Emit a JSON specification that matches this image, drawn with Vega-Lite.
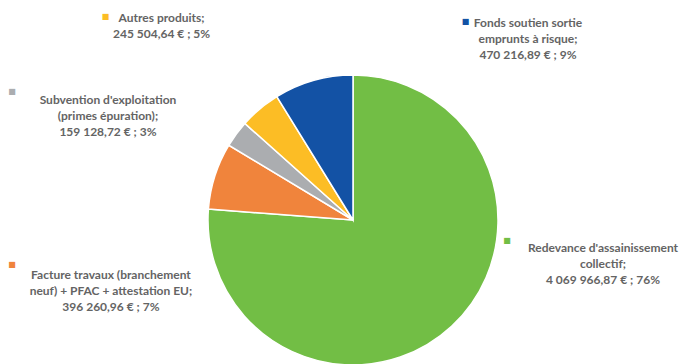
{
  "$schema": "https://vega.github.io/schema/vega-lite/v6.json",
  "width": 656,
  "height": 288,
  "padding": {"left": 25, "top": 76, "right": 0, "bottom": 0},
  "autosize": {"type": "none"},
  "background": "white",
  "view": {"stroke": null},
  "data": {"values": [
    {"n": 1, "cat": "Redevance d'assainissement collectif", "value": 4069966.87, "label": "Redevance d'assainissement\ncollectif;\n4 069 966,87 € ; 76%"},
    {"n": 2, "cat": "Facture travaux (branchement neuf) + PFAC + attestation EU", "value": 396260.96, "label": "Facture travaux (branchement\nneuf) + PFAC + attestation EU;\n396 260,96 € ; 7%"},
    {"n": 3, "cat": "Subvention d'exploitation (primes épuration)", "value": 159128.72, "label": "Subvention d'exploitation\n(primes épuration);\n159 128,72 € ; 3%"},
    {"n": 4, "cat": "Autres produits", "value": 245504.64, "label": "Autres produits;\n245 504,64 € ; 5%"},
    {"n": 5, "cat": "Fonds soutien sortie emprunts à risque", "value": 470216.89, "label": "Fonds soutien sortie\nemprunts à risque;\n470 216,89 € ; 9%"}
  ]},
  "encoding": {
    "theta": {"field": "value", "type": "quantitative", "stack": true},
    "order": {"field": "n", "type": "quantitative"},
    "color": {
      "field": "cat", "type": "nominal", "legend": null,
      "scale": {
        "domain": ["Redevance d'assainissement collectif", "Facture travaux (branchement neuf) + PFAC + attestation EU", "Subvention d'exploitation (primes épuration)", "Autres produits", "Fonds soutien sortie emprunts à risque"],
        "range": ["#72BE45", "#F0843C", "#ABADB0", "#FCBD25", "#1352A5"]
      }
    }
  },
  "layer": [
    {"mark": {"type": "arc", "outerRadius": 145, "stroke": "white", "strokeWidth": 1.5}},
    {"mark": {"type": "text", "radius": 145, "dx": 151.4, "dy": -74, "align": "center", "baseline": "alphabetic", "lineBreak": "\n", "lineHeight": 16, "font": "Lato", "fontWeight": "bold", "fontSize": 12},
     "encoding": {"text": {"condition": {"test": "datum.n == 1", "field": "label", "type": "nominal"}, "value": ""}, "color": {"value": "#646464"}, "detail": {"field": "cat", "type": "nominal"}}},
    {"mark": {"type": "text", "radius": 145, "dx": -103.9, "dy": 103.3, "align": "center", "baseline": "alphabetic", "lineBreak": "\n", "lineHeight": 16, "font": "Lato", "fontWeight": "bold", "fontSize": 12},
     "encoding": {"text": {"condition": {"test": "datum.n == 2", "field": "label", "type": "nominal"}, "value": ""}, "color": {"value": "#646464"}, "detail": {"field": "cat", "type": "nominal"}}},
    {"mark": {"type": "text", "radius": 145, "dx": -128.3, "dy": -29.7, "align": "center", "baseline": "alphabetic", "lineBreak": "\n", "lineHeight": 16, "font": "Lato", "fontWeight": "bold", "fontSize": 12},
     "encoding": {"text": {"condition": {"test": "datum.n == 3", "field": "label", "type": "nominal"}, "value": ""}, "color": {"value": "#646464"}, "detail": {"field": "cat", "type": "nominal"}}},
    {"mark": {"type": "text", "radius": 145, "dx": -98.3, "dy": -87.2, "align": "center", "baseline": "alphabetic", "lineBreak": "\n", "lineHeight": 16, "font": "Lato", "fontWeight": "bold", "fontSize": 12},
     "encoding": {"text": {"condition": {"test": "datum.n == 4", "field": "label", "type": "nominal"}, "value": ""}, "color": {"value": "#646464"}, "detail": {"field": "cat", "type": "nominal"}}},
    {"mark": {"type": "text", "radius": 145, "dx": 214.6, "dy": -54, "align": "center", "baseline": "alphabetic", "lineBreak": "\n", "lineHeight": 16, "font": "Lato", "fontWeight": "bold", "fontSize": 12},
     "encoding": {"text": {"condition": {"test": "datum.n == 5", "field": "label", "type": "nominal"}, "value": ""}, "color": {"value": "#646464"}, "detail": {"field": "cat", "type": "nominal"}}},
    {"mark": {"type": "text", "radius": 145, "dx": 55.4, "dy": -85.8, "align": "center", "baseline": "middle", "font": "DejaVu Sans", "fontSize": 8},
     "encoding": {"text": {"condition": {"test": "datum.n == 1", "value": "■"}, "value": ""}}},
    {"mark": {"type": "text", "radius": 145, "dx": -202.9, "dy": 89.5, "align": "center", "baseline": "middle", "font": "DejaVu Sans", "fontSize": 8},
     "encoding": {"text": {"condition": {"test": "datum.n == 2", "value": "■"}, "value": ""}}},
    {"mark": {"type": "text", "radius": 145, "dx": -224.3, "dy": -41.5, "align": "center", "baseline": "middle", "font": "DejaVu Sans", "fontSize": 8},
     "encoding": {"text": {"condition": {"test": "datum.n == 3", "value": "■"}, "value": ""}}},
    {"mark": {"type": "text", "radius": 145, "dx": -154.3, "dy": -91.9, "align": "center", "baseline": "middle", "font": "DejaVu Sans", "fontSize": 8},
     "encoding": {"text": {"condition": {"test": "datum.n == 4", "value": "■"}, "value": ""}}},
    {"mark": {"type": "text", "radius": 145, "dx": 152.1, "dy": -59, "align": "center", "baseline": "middle", "font": "DejaVu Sans", "fontSize": 8},
     "encoding": {"text": {"condition": {"test": "datum.n == 5", "value": "■"}, "value": ""}}}
  ]
}
